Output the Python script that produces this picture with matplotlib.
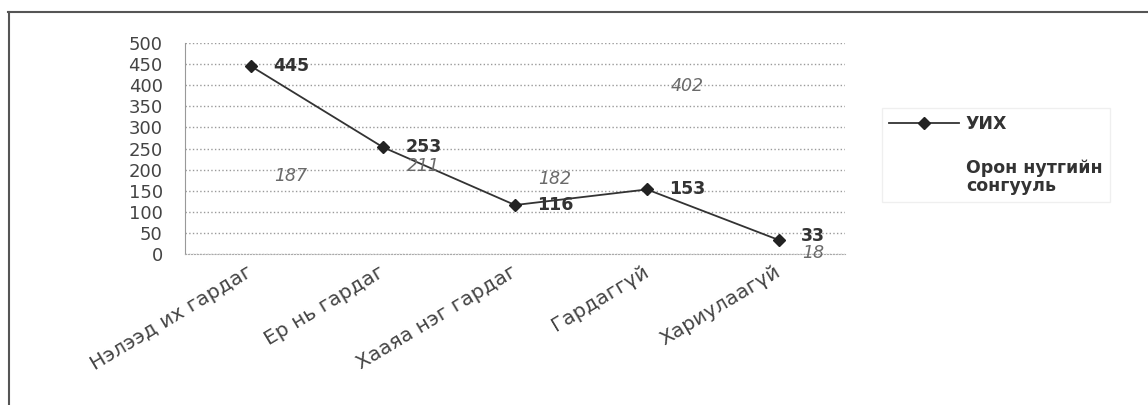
import numpy as np
import matplotlib.pyplot as plt
from matplotlib.lines import Line2D

plt.rcParams['font.family'] = ['DejaVu Sans']

# Өгөгдөл
categories = ["Нэлээд их гардаг", "Ер нь гардаг", "Хааяа нэг гардаг", "Гардаггүй", "Хариулаагүй"]
uih = [445, 253, 116, 153, 33]
oron_nutag = [187, 211, 182, 402, 18]
y_ticks = [0, 50, 100, 150, 200, 250, 300, 350, 400, 450, 500]

W, H = 1148, 405
fig = plt.figure(figsize=(W / 100, H / 100), dpi=100)
ax = fig.add_axes([185 / W, 1 - 254 / H, 660 / W, 211 / H])

x = np.arange(len(categories))

# Орон нутгийн сонгууль - шугам нь скан дээр харагдахгүй (цагаан)
ax.plot(x, oron_nutag, color='white', linewidth=1.0, zorder=0.3,
        label="Орон нутгийн\nсонгууль")
ax.plot(x, uih, color='#333333', linewidth=1.3, marker='D', markersize=6,
        markerfacecolor='#222222', markeredgecolor='#222222', zorder=3, label="УИХ")

for xi, v in zip(x, uih):
    dy = 3 if v == 33 else 0
    ax.annotate(str(v), (xi, v), xytext=(16, dy), textcoords='offset points',
                ha='left', va='center', fontsize=12.5, fontweight='bold', color='#333333')
for xi, v in zip(x, oron_nutag):
    dy = -5 if v == 18 else -1
    ax.annotate(str(v), (xi, v), xytext=(17, dy), textcoords='offset points',
                ha='left', va='center', fontsize=12.5, fontstyle='italic', color='#6a6a6a')

ax.set_xlim(-0.5, len(categories) - 0.5)
ax.set_ylim(0, 500)
ax.set_yticks(y_ticks)
ax.set_yticklabels([str(t) for t in y_ticks], fontsize=13, color='#444444')
ax.set_xticks(x)
ax.set_xticklabels(categories, rotation=31, ha='right', va='center',
                   rotation_mode='anchor', fontsize=14.5, color='#444444')
ax.tick_params(axis='y', length=0, pad=16)
ax.tick_params(axis='x', length=0, pad=12)

ax.yaxis.grid(True, linestyle=':', color='#9a9a9a', linewidth=1.0, zorder=0.5)
ax.set_axisbelow(True)
for side in ['top', 'right']:
    ax.spines[side].set_visible(False)
ax.spines['left'].set_color('#999999')
ax.spines['bottom'].set_color('#aaaaaa')
ax.spines['bottom'].set_linestyle(':')

# Тайлбар
handles, labels = ax.get_legend_handles_labels()
leg = fig.legend(handles[::-1], labels[::-1], loc='upper left',
                 bbox_to_anchor=(873 / W, 1 - 99 / H), fontsize=12.5,
                 handlelength=4.0, handletextpad=0.4, labelspacing=1.45,
                 frameon=True, fancybox=False, borderpad=0.45)
leg.get_frame().set_edgecolor('#ececec')
for t in leg.get_texts():
    t.set_color('#333333')
    t.set_fontweight('bold')
    t.set_linespacing(1.0)

# Хүрээ
fig.add_artist(Line2D([8 / W, 1], [1 - 12 / H, 1 - 12 / H], color='#555555', linewidth=1.5))
fig.add_artist(Line2D([9 / W, 9 / W], [0, 1 - 12 / H], color='#555555', linewidth=1.5))

fig.savefig("out.png", dpi=100)
